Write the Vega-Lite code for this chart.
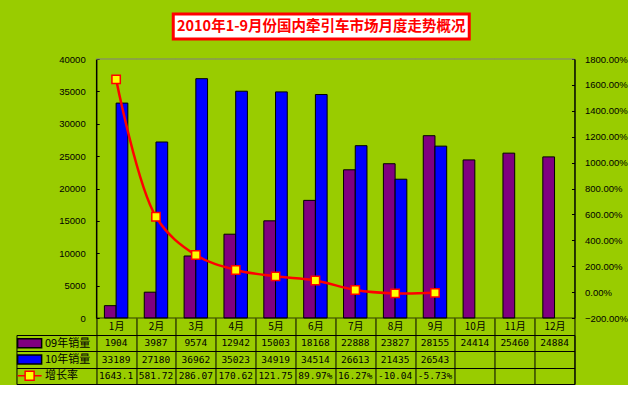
{
  "$schema": "https://vega.github.io/schema/vega-lite/v6.json",
  "background": "#99CC00",
  "padding": {"left": 14, "top": 12, "right": 0, "bottom": 0},
  "config": {"view": {"stroke": null}, "font": "Liberation Sans"},
  "datasets": {
    "m": [
      {"month": "1月", "09年销量": 1904, "10年销量": 33189, "rate": 1643.1, "增长率": "1643.1"},
      {"month": "2月", "09年销量": 3987, "10年销量": 27180, "rate": 581.72, "增长率": "581.72"},
      {"month": "3月", "09年销量": 9574, "10年销量": 36962, "rate": 286.07, "增长率": "286.07"},
      {"month": "4月", "09年销量": 12942, "10年销量": 35023, "rate": 170.62, "增长率": "170.62"},
      {"month": "5月", "09年销量": 15003, "10年销量": 34919, "rate": 121.75, "增长率": "121.75"},
      {"month": "6月", "09年销量": 18168, "10年销量": 34514, "rate": 89.97, "增长率": "89.97%"},
      {"month": "7月", "09年销量": 22888, "10年销量": 26613, "rate": 16.27, "增长率": "16.27%"},
      {"month": "8月", "09年销量": 23827, "10年销量": 21435, "rate": -10.04, "增长率": "-10.04"},
      {"month": "9月", "09年销量": 28155, "10年销量": 26543, "rate": -5.73, "增长率": "-5.73%"},
      {"month": "10月", "09年销量": 24414},
      {"month": "11月", "09年销量": 25460},
      {"month": "12月", "09年销量": 24884}
    ]
  },
  "spacing": 13,
  "center": true,
  "vconcat": [
    {
      "width": 296,
      "height": 25,
      "view": {"fill": "white", "stroke": "red", "strokeWidth": 3},
      "data": {"values": [{"t": "2010年1-9月份国内牵引车市场月度走势概况"}]},
      "mark": {"type": "text", "font": "Noto Sans CJK SC", "fontSize": 14.5, "fontWeight": "bold", "color": "red"},
      "encoding": {"text": {"field": "t", "type": "nominal"}}
    },
    {
      "spacing": 17,
      "bounds": "flush",
      "vconcat": [
        {
          "width": 558,
          "height": 259,
          "view": {"stroke": null},
          "data": {"name": "m"},
          "encoding": {
            "x": {
              "field": "month", "type": "nominal",
              "scale": {"type": "band", "domain": ["_a","_b","1月","2月","3月","4月","5月","6月","7月","8月","9月","10月","11月","12月"], "paddingInner": 0, "paddingOuter": 0},
              "axis": {
                "orient": "bottom", "title": null,
                "values": ["1月","2月","3月","4月","5月","6月","7月","8月","9月","10月","11月","12月"],
                "tickBand": "extent", "domain": false, "ticks": true, "tickSize": 17, "tickColor": "black", "tickWidth": 1,
                "labelBaseline": "middle", "labelPadding": -8.5, "labelAngle": 0, "labelOverlap": false,
                "labelFont": "Noto Sans CJK SC", "labelFontSize": 10, "labelColor": "black", "grid": false
              }
            }
          },
          "layer": [
            {
              "transform": [{"fold": ["09年销量", "10年销量"], "as": ["series", "sales"]}, {"filter": "isValid(datum.sales)"}],
              "mark": {"type": "bar", "stroke": "black", "strokeWidth": 1},
              "encoding": {
                "xOffset": {"field": "series", "type": "nominal", "scale": {"domain": ["09年销量", "10年销量"], "paddingInner": 0, "paddingOuter": 0.7}},
                "y": {
                  "field": "sales", "type": "quantitative",
                  "scale": {"domain": [0, 40000], "nice": false},
                  "axis": {
                    "orient": "left", "offset": -79.7, "title": null, "grid": false, "format": "d",
                    "values": [0,5000,10000,15000,20000,25000,30000,35000,40000],
                    "domainColor": "black", "domainWidth": 1.5, "tickColor": "black", "tickSize": -3, "labelPadding": 14,
                    "labelFont": "Liberation Sans", "labelFontSize": 9.5, "labelColor": "black"
                  }
                },
                "fill": {
                  "field": "series", "type": "nominal",
                  "scale": {"domain": ["09年销量", "10年销量", "增长率"], "range": ["#800080", "#0000FF", "#FFFF00"]},
                  "legend": null
                }
              }
            },
            {
              "mark": {"type": "tick", "color": "#808080", "thickness": 1.5, "size": 40},
              "encoding": {"y": {"datum": 40000, "type": "quantitative", "scale": {"domain": [0, 40000], "nice": false}, "axis": null}}
            },
            {
              "mark": {"type": "tick", "color": "black", "thickness": 1, "size": 40},
              "encoding": {"y": {"datum": 0, "type": "quantitative", "scale": {"domain": [0, 40000], "nice": false}, "axis": null}}
            },
            {
              "transform": [{"filter": "isValid(datum.rate)"}],
              "mark": {
                "type": "line", "color": "#FF0000", "strokeWidth": 2.5, "interpolate": "catmull-rom",
                "point": {"shape": "square", "filled": true, "fill": "#FFFF00", "stroke": "#FF0000", "strokeWidth": 1.5, "size": 70, "opacity": 1}
              },
              "encoding": {
                "y": {
                  "field": "rate", "type": "quantitative",
                  "scale": {"domain": [-200, 1800], "nice": false},
                  "axis": {
                    "orient": "right", "title": null, "grid": false,
                    "values": [-200,0,200,400,600,800,1000,1200,1400,1600,1800],
                    "labelExpr": "format(datum.value, '.2f') + '%'",
                    "domainColor": "black", "domainWidth": 1.5, "tickColor": "black", "tickSize": -3, "labelPadding": 13,
                    "labelFont": "Liberation Sans", "labelFontSize": 9.5, "labelColor": "black"
                  }
                }
              }
            }
          ],
          "resolve": {"scale": {"y": "independent"}}
        },
        {
          "width": 558,
          "height": 49,
          "view": {"stroke": "black", "strokeWidth": 1},
          "layer": [
            {
              "data": {"name": "m"},
              "transform": [{"fold": ["09年销量", "10年销量", "增长率"], "as": ["series", "cell"]}, {"filter": "isValid(datum.cell)"}],
              "mark": {"type": "text", "font": "DejaVu Sans Mono", "fontSize": 9.5, "color": "black"},
              "encoding": {
                "x": {
                  "field": "month", "type": "nominal",
                  "scale": {"type": "band", "domain": ["_a","_b","1月","2月","3月","4月","5月","6月","7月","8月","9月","10月","11月","12月"], "paddingInner": 0, "paddingOuter": 0},
                  "axis": {
                    "title": null, "orient": "bottom",
                    "values": ["1月","2月","3月","4月","5月","6月","7月","8月","9月","10月","11月","12月"],
                    "tickBand": "extent", "grid": true, "gridColor": "black", "gridOpacity": 1, "gridWidth": 1,
                    "labels": false, "ticks": false, "domain": false
                  }
                },
                "y": {
                  "field": "series", "type": "nominal",
                  "scale": {"type": "band", "domain": ["09年销量", "10年销量", "增长率"], "paddingInner": 0, "paddingOuter": 0},
                  "axis": {
                    "orient": "left", "title": null,
                    "values": ["09年销量", "10年销量", "增长率"],
                    "tickBand": "extent", "grid": true, "gridColor": "black", "gridOpacity": 1, "gridWidth": 1,
                    "ticks": false, "domain": false,
                    "labelAlign": "left", "labelPadding": -28, "labelBaseline": "middle",
                    "labelFont": "Noto Sans CJK SC", "labelFontSize": 11, "labelColor": "black"
                  }
                },
                "text": {"field": "cell", "type": "nominal"}
              }
            },
            {
              "data": {"values": [{"series": "09年销量"}, {"series": "10年销量"}, {"series": "增长率"}]},
              "mark": {"type": "point", "filled": true, "size": 576, "strokeWidth": 1.5, "opacity": 1},
              "encoding": {
                "x": {"datum": "_a", "type": "nominal", "bandPosition": 0.33},
                "y": {"field": "series", "type": "nominal"},
                "shape": {
                  "field": "series", "type": "nominal",
                  "scale": {"domain": ["09年销量", "10年销量", "增长率"], "range": ["M-1,-0.375H1V0.375H-1Z", "M-1,-0.375H1V0.375H-1Z", "M-1,0H-0.375M0.375,0H1M-0.375,-0.375H0.375V0.375H-0.375Z"]},
                  "legend": null
                },
                "fill": {
                  "field": "series", "type": "nominal",
                  "scale": {"domain": ["09年销量", "10年销量", "增长率"], "range": ["#800080", "#0000FF", "#FFFF00"]},
                  "legend": null
                },
                "stroke": {
                  "field": "series", "type": "nominal",
                  "scale": {"domain": ["09年销量", "10年销量", "增长率"], "range": ["#000000", "#000000", "#FF0000"]},
                  "legend": null
                }
              }
            }
          ]
        }
      ]
    }
  ]
}
